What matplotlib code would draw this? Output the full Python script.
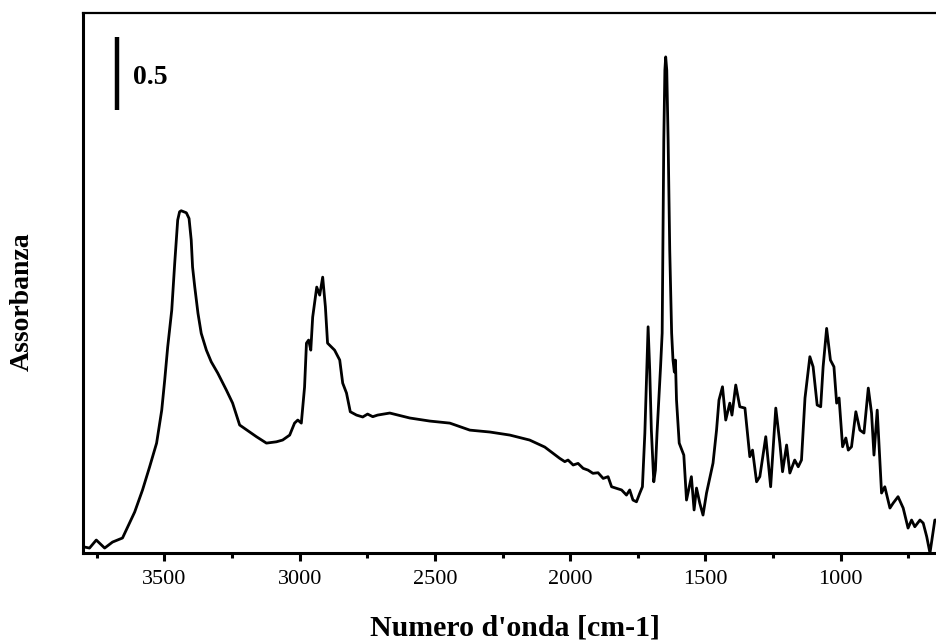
import matplotlib
matplotlib.use("Agg")
import matplotlib.pyplot as plt
from matplotlib.ticker import MultipleLocator

plt.rcParams['font.family'] = ['Liberation Serif', 'DejaVu Serif']

# spettro IR (numero d'onda, assorbanza)
numero_onda = [3801, 3777, 3752, 3721, 3692, 3655, 3636, 3610, 3581, 3555,
               3529, 3510, 3499, 3488, 3473, 3462, 3456, 3451, 3444, 3438,
               3419, 3409, 3401, 3396, 3388, 3376, 3364, 3345, 3327, 3303,
               3271, 3248, 3222, 3185, 3160, 3123, 3086, 3063, 3037, 3019,
               3007, 2994, 2982, 2975, 2967, 2959, 2952, 2937, 2926, 2915,
               2905, 2897, 2871, 2852, 2841, 2827, 2813, 2790, 2767, 2749,
               2730, 2712, 2667, 2593, 2519, 2445, 2371, 2297, 2223, 2150,
               2094, 2039, 2020, 2008, 1989, 1971, 1952, 1934, 1916, 1897,
               1878, 1860, 1847, 1829, 1810, 1792, 1780, 1768, 1755, 1743,
               1733, 1724, 1718, 1712, 1706, 1700, 1691, 1685, 1679, 1666,
               1660, 1654, 1650, 1647, 1643, 1638, 1632, 1625, 1620, 1615,
               1611, 1607, 1597, 1580, 1570, 1552, 1542, 1533, 1521, 1509,
               1496, 1472, 1459, 1450, 1437, 1425, 1410, 1402, 1388, 1373,
               1354, 1336, 1326, 1311, 1299, 1277, 1259, 1240, 1225, 1215,
               1200, 1188, 1170, 1157, 1145, 1132, 1114, 1102, 1087, 1074,
               1065, 1052, 1038, 1025, 1015, 1006, 993, 981, 972, 960,
               944, 929, 914, 898, 886, 877, 865, 849, 837, 818,
               806, 788, 769, 751, 738, 726, 707, 695, 682, 670,
               652, 644]
assorbanza = [0.043, 0.034, 0.089, 0.034, 0.075, 0.103, 0.178, 0.281, 0.432, 0.589,
              0.753, 0.979, 1.185, 1.411, 1.664, 1.986, 2.144, 2.281, 2.338, 2.345,
              2.331, 2.292, 2.144, 1.959, 1.824, 1.642, 1.505, 1.390, 1.310, 1.233,
              1.116, 1.027, 0.877, 0.829, 0.797, 0.753, 0.762, 0.774, 0.808, 0.890,
              0.911, 0.890, 1.137, 1.438, 1.459, 1.390, 1.616, 1.822, 1.767, 1.890,
              1.687, 1.438, 1.390, 1.322, 1.164, 1.096, 0.968, 0.945, 0.932, 0.952,
              0.934, 0.945, 0.959, 0.925, 0.904, 0.890, 0.842, 0.829, 0.808, 0.774,
              0.726, 0.649, 0.626, 0.637, 0.603, 0.614, 0.580, 0.568, 0.546, 0.550,
              0.511, 0.523, 0.454, 0.443, 0.432, 0.397, 0.432, 0.363, 0.351, 0.409,
              0.454, 0.822, 1.185, 1.550, 1.253, 0.842, 0.488, 0.568, 0.822, 1.274,
              1.507, 2.829, 3.308, 3.399, 3.308, 2.829, 2.075, 1.507, 1.322, 1.240,
              1.322, 1.048, 0.753, 0.671, 0.363, 0.523, 0.295, 0.445, 0.342, 0.260,
              0.411, 0.616, 0.842, 1.048, 1.139, 0.911, 1.027, 0.945, 1.151, 1.002,
              0.993, 0.660, 0.705, 0.488, 0.523, 0.797, 0.454, 0.993, 0.753, 0.557,
              0.740, 0.548, 0.637, 0.591, 0.637, 1.062, 1.345, 1.276, 1.014, 1.002,
              1.276, 1.539, 1.322, 1.276, 1.027, 1.062, 0.728, 0.788, 0.705, 0.728,
              0.968, 0.842, 0.822, 1.130, 0.959, 0.671, 0.979, 0.411, 0.454, 0.308,
              0.342, 0.386, 0.308, 0.171, 0.226, 0.180, 0.226, 0.205, 0.112, 0.0,
              0.226, 0.226]

tick_labels = ['3500', '3000', '2500', '2000', '1500', '1000']
tick_pos = [3500, 3000, 2500, 2000, 1500, 1000]

fig = plt.figure(figsize=(9.37, 6.42), dpi=100)
ax = fig.add_axes([0.0886, 0.1386, 0.9114, 0.8412])

ax.plot(numero_onda, assorbanza, color='black', lw=2.0)

# barra di scala 0.5
ax.plot([3677, 3677], [3.034, 3.534], color='black', lw=3.2, solid_capstyle='butt')
ax.text(3618, 3.26, '0.5', fontsize=20, fontweight='bold', ha='left', va='center')

ax.set_xlim(3801, 644)
ax.set_ylim(0, 3.7)
ax.set_xticks(tick_pos)
ax.set_xticklabels(tick_labels)
ax.xaxis.set_minor_locator(MultipleLocator(250))
ax.set_yticks([])

ax.tick_params(axis='x', which='major', direction='out', length=6, width=2.2,
               labelsize=16, pad=6)
ax.tick_params(axis='x', which='minor', direction='out', length=3.5, width=2.2)

ax.spines['right'].set_visible(False)
ax.spines['left'].set_linewidth(2.2)
ax.spines['bottom'].set_linewidth(2.2)
ax.spines['top'].set_linewidth(1.6)

ax.set_xlabel("Numero d'onda [cm-1]", fontsize=21.5, fontweight='bold')
ax.xaxis.set_label_coords(0.506, -0.113)
ax.set_ylabel('Assorbanza', fontsize=20, fontweight='bold')
ax.yaxis.set_label_coords(-0.057, 0.466)

fig.savefig('out.png', dpi=100)
